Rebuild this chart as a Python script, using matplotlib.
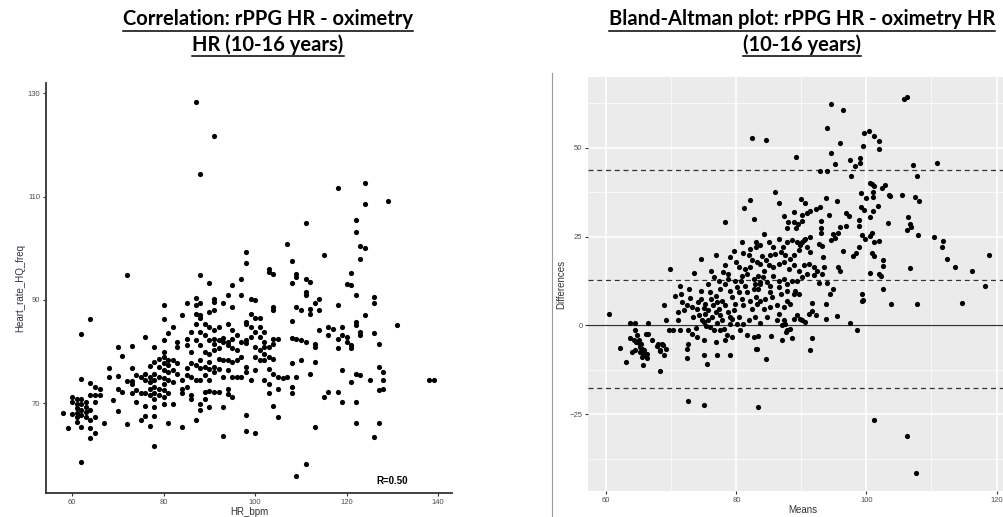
import numpy as np
import matplotlib
matplotlib.use("Agg")
import matplotlib.pyplot as plt
from matplotlib.lines import Line2D

matplotlib.rcParams['font.family'] = ['Liberation Sans', 'DejaVu Sans']

# left panel: (HR_bpm, Heart_rate_HQ_freq)
corr_pts = [
    (58, 68.1), (59, 65.1),
    (60, 71.2), (60, 70.3), (60, 67.9),
    (61, 70.9), (61, 69.9), (61, 69.0), (61, 68.0), (61, 67.4), (61, 66.4),
    (62, 70.9), (62, 69.9), (62, 68.6), (62, 67.7), (62, 65.4), (62, 74.6), (62, 83.3), (62, 58.7),
    (63, 70.3), (63, 69.3), (63, 68.3), (63, 67.4),
    (64, 86.2), (64, 73.9), (64, 71.5), (64, 68.6), (64, 66.7), (64, 65.1), (64, 63.2),
    (65, 73.2), (65, 71.5), (65, 70.3), (65, 67.4), (65, 64.3),
    (66, 72.8), (66, 71.5), (67, 66.1), (68, 76.9), (68, 75.0), (69, 70.6),
    (70, 80.9), (70, 75.2), (70, 72.8), (70, 68.5),
    (71, 79.1), (71, 72.2),
    (72, 94.9), (72, 74.3), (72, 66.0),
    (73, 81.0), (73, 76.9), (73, 74.3), (73, 73.7), (73, 71.9),
    (74, 75.4), (74, 72.5), (74, 70.3),
    (75, 75.1), (75, 71.9), (75, 66.7),
    (76, 82.8), (76, 75.7), (76, 74.4), (76, 71.9), (76, 69.4), (76, 67.5),
    (77, 77.2), (77, 75.1), (77, 74.1), (77, 72.8), (77, 71.5), (77, 65.6),
    (78, 80.9), (78, 78.0), (78, 75.7), (78, 74.4), (78, 73.2), (78, 71.9), (78, 70.9), (78, 69.2), (78, 67.6), (78, 61.7),
    (79, 78.6), (79, 77.0), (79, 75.1), (79, 72.8), (79, 71.5),
    (80, 89.1), (80, 86.2), (80, 82.2), (80, 79.9), (80, 79.0), (80, 77.7), (80, 76.4), (80, 74.8), (80, 73.8), (80, 72.5), (80, 71.2), (80, 69.9),
    (81, 83.6), (81, 78.3), (81, 77.4), (81, 76.1), (81, 74.4), (81, 71.9), (81, 66.2),
    (82, 84.8), (82, 78.3), (82, 76.4), (82, 74.1), (82, 69.9),
    (83, 81.9), (83, 80.9), (83, 77.7), (83, 75.7),
    (84, 87.0), (84, 74.4), (84, 72.8), (84, 71.9), (84, 65.4),
    (85, 89.3), (85, 82.5), (85, 81.2), (85, 76.9), (85, 75.4), (85, 73.2),
    (86, 83.8), (86, 79.9), (86, 77.7), (86, 75.1), (86, 71.5), (86, 70.9),
    (87, 128.4), (87, 90.4), (87, 89.0), (87, 87.3), (87, 85.4), (87, 82.3), (87, 77.4), (87, 74.4), (87, 66.8),
    (88, 114.4), (88, 94.9), (88, 89.3), (88, 87.0), (88, 86.4), (88, 83.8), (88, 81.2), (88, 78.3), (88, 76.9), (88, 74.4), (88, 69.9), (88, 68.6),
    (89, 85.4), (89, 83.2), (89, 79.9), (89, 77.0), (89, 75.4), (89, 72.2), (89, 70.9),
    (90, 93.3), (90, 87.7), (90, 84.8), (90, 82.2), (90, 79.6), (90, 78.0), (90, 76.7), (90, 74.4), (90, 72.4), (90, 69.2),
    (91, 121.8), (91, 90.2), (91, 89.6), (91, 88.0), (91, 84.1), (91, 82.5), (91, 81.5), (91, 80.3), (91, 77.0), (91, 76.1), (91, 72.2),
    (92, 84.8), (92, 82.2), (92, 80.6), (92, 78.6), (92, 76.7), (92, 72.2),
    (93, 89.3), (93, 82.7), (93, 81.9), (93, 78.3), (93, 75.1), (93, 69.3), (93, 63.6),
    (94, 90.9), (94, 85.4), (94, 81.9), (94, 81.2), (94, 78.3), (94, 76.4), (94, 72.8), (94, 71.7),
    (95, 92.8), (95, 88.6), (95, 84.1), (95, 82.5), (95, 80.6), (95, 78.0), (95, 75.1), (95, 71.2),
    (96, 83.2), (96, 80.3), (96, 78.3), (96, 75.1),
    (97, 94.1), (97, 90.9), (97, 81.9), (97, 79.0), (97, 75.1),
    (98, 99.3), (98, 97.2), (98, 85.7), (98, 85.4), (98, 82.3), (98, 81.7), (98, 77.0), (98, 76.1), (98, 67.7), (98, 64.6),
    (99, 90.2), (99, 87.3), (99, 84.8), (99, 82.8), (99, 74.4),
    (100, 89.9), (100, 86.4), (100, 83.8), (100, 80.9), (100, 79.0), (100, 76.4), (100, 64.3),
    (101, 86.4), (101, 84.8), (101, 82.8), (101, 80.3), (101, 78.3),
    (102, 83.8), (102, 81.9), (102, 80.9), (102, 79.6), (102, 78.3), (102, 74.4),
    (103, 96.0), (103, 95.4), (103, 80.9), (103, 79.0), (103, 76.7), (103, 73.8), (103, 71.9),
    (104, 95.1), (104, 88.6), (104, 88.0), (104, 82.5), (104, 81.5), (104, 78.6), (104, 75.7), (104, 69.4),
    (105, 82.5), (105, 75.1), (105, 72.8), (105, 67.4),
    (106, 74.8), (107, 100.8), (107, 75.1),
    (108, 97.6), (108, 93.3), (108, 85.9), (108, 82.7), (108, 77.7), (108, 73.2), (108, 71.9),
    (109, 95.1), (109, 94.4), (109, 88.6), (109, 82.5), (109, 75.1), (109, 55.9),
    (110, 88.1), (110, 82.2), (110, 78.3),
    (111, 104.9), (111, 94.0), (111, 91.5), (111, 90.9), (111, 81.8), (111, 58.3),
    (112, 93.5), (112, 88.3), (112, 87.3), (112, 75.7),
    (113, 89.3), (113, 81.5), (113, 80.9), (113, 77.9), (113, 65.4),
    (114, 90.2), (114, 88.0), (114, 84.1),
    (115, 98.6), (115, 71.2),
    (116, 84.8), (116, 83.2), (116, 72.2), (117, 84.4),
    (118, 111.6), (118, 89.0), (118, 82.5), (118, 80.6), (118, 72.2),
    (119, 84.8), (119, 83.2), (119, 76.4), (119, 70.3),
    (120, 93.0), (120, 82.8), (120, 81.9),
    (121, 95.3), (121, 92.8), (121, 81.2), (121, 80.6), (121, 74.1),
    (122, 105.4), (122, 103.1), (122, 90.9), (122, 85.7), (122, 85.1), (122, 75.7), (122, 70.3), (122, 66.1),
    (123, 100.5), (123, 98.0), (123, 83.8), (123, 83.2), (123, 75.4),
    (124, 112.6), (124, 108.6), (124, 100.0), (124, 87.0),
    (125, 74.4),
    (126, 90.6), (126, 89.3), (126, 83.6), (126, 63.4),
    (127, 81.5), (127, 77.0), (127, 72.5), (127, 66.1),
    (128, 76.1), (128, 74.4), (128, 72.8),
    (129, 109.1), (131, 85.1), (138, 74.4), (139, 74.4),
]

# right panel: (Means, Differences)
ba_pts = [
    # upper part
    (82.4, 52.7), (81.2, 33.1), (82.1, 35.4), (82.7, 30.0), (78.2, 29.0),
    (105.8, 63.7), (106.3, 64.4), (94.6, 62.3), (96.4, 60.6), (84.6, 52.2), (93.9, 55.5), (95.9, 51.3),
    (99.7, 54.1), (100.4, 54.8), (101.1, 53.2), (101.9, 51.8), (101.9, 49.6), (99.5, 50.4), (94.5, 48.4),
    (89.2, 47.3), (95.1, 45.4), (97.5, 46.5), (99.0, 47.0), (99.0, 45.7), (98.3, 44.9), (97.6, 42.1),
    (92.9, 43.5), (93.9, 43.5), (107.1, 45.2), (107.7, 42.0), (110.9, 45.7),
    (86.0, 37.5), (86.6, 34.4), (89.9, 35.6), (90.6, 34.4), (91.3, 32.3), (92.2, 32.8), (92.9, 33.4),
    (93.8, 35.8), (95.4, 34.9), (88.8, 31.8), (87.4, 30.8), (90.1, 31.0), (90.9, 31.5), (90.1, 29.4),
    (88.9, 29.2), (89.5, 28.6), (88.0, 29.1), (87.8, 27.5), (89.1, 27.4), (93.0, 29.5), (93.0, 27.4),
    (94.2, 31.1), (96.9, 31.6), (97.3, 30.9),
    (99.2, 37.2), (99.9, 35.9), (101.0, 37.5), (99.1, 33.2), (99.6, 32.5), (100.5, 30.6), (101.0, 32.3),
    (101.8, 33.7), (100.6, 40.1), (100.9, 39.8), (101.1, 39.1), (101.0, 36.2), (102.4, 38.8), (102.9, 39.6),
    (103.4, 36.7), (103.7, 36.3), (105.5, 36.7), (107.5, 36.2), (108.1, 35.1), (103.3, 28.8), (106.4, 30.6),
    (106.7, 28.4), (106.8, 27.8), (106.3, 26.9), (108.0, 25.3), (110.4, 24.8), (111.8, 23.7), (111.6, 22.2),
    (112.4, 18.7), (113.6, 16.4), (116.3, 15.2), (118.9, 19.8), (118.2, 11.1), (106.7, 16.2),
    (98.8, 28.1), (98.8, 29.7), (96.8, 28.1), (95.9, 27.8), (95.6, 25.9), (94.9, 25.6), (94.5, 24.1),
    (95.2, 24.6), (99.3, 25.3), (99.8, 24.2), (100.5, 25.1), (100.9, 26.1), (101.9, 23.7), (101.2, 23.4),
    (98.8, 22.0), (98.4, 20.4), (98.0, 19.4), (96.4, 20.8), (100.9, 20.4), (101.1, 19.6), (102.6, 18.4),
    (102.5, 16.7), (100.5, 14.7), (101.9, 14.5), (102.2, 13.8), (95.6, 16.4), (96.0, 15.4), (102.6, 10.3),
    (94.9, 10.3), (93.0, 25.9), (93.2, 22.4), (92.7, 22.8), (93.3, 19.2),
    # dense middle
    (83.7, 22.5), (84.2, 25.7), (85.1, 23.4), (85.7, 22.0), (86.5, 24.3), (87.2, 22.0), (87.8, 23.4),
    (88.6, 23.9), (89.3, 23.4), (89.8, 22.5), (90.1, 23.4), (90.4, 23.9), (90.8, 22.0), (91.3, 20.6),
    (91.4, 24.8), (90.6, 24.3), (89.6, 21.1), (88.8, 19.9), (88.2, 18.7), (87.5, 19.7), (86.8, 20.6),
    (86.0, 20.1), (85.2, 19.7), (84.5, 18.3), (83.7, 17.3), (84.2, 15.4), (85.0, 16.9), (85.7, 16.4),
    (86.5, 17.3), (87.3, 17.8), (88.1, 15.9), (88.8, 16.9), (89.6, 15.4), (90.4, 16.9), (91.1, 17.3),
    (91.9, 16.4), (92.4, 15.4), (93.2, 14.5), (93.5, 16.4), (84.1, 13.6), (84.7, 12.2), (85.7, 14.0),
    (86.5, 12.6), (87.3, 13.1), (87.8, 11.7), (88.6, 12.5), (89.3, 12.6), (90.1, 13.6), (90.8, 14.5),
    (91.9, 14.3), (92.7, 11.9), (94.0, 11.9), (86.5, 10.8), (85.2, 11.2), (83.7, 11.7),
    (103.8, 6.1), (107.8, 5.9), (114.7, 6.3), (99.3, 8.9), (99.5, 7.2), (99.3, 6.8), (97.5, 0.7),
    (98.6, -1.4), (94.4, 8.9), (93.8, 5.9), (93.8, 1.9), (95.5, 2.6), (91.6, 6.3), (91.6, 4.0),
    (91.1, 3.3), (92.3, 3.0), (91.6, -3.6), (91.4, -7.0), (89.6, 8.9), (88.8, 1.9), (89.8, 1.9),
    (90.5, 0.9), (89.3, 2.8), (90.1, 1.4), (87.3, 1.4), (87.5, 0.5), (87.0, 0.0), (87.8, -1.4),
    (88.3, -0.9), (88.6, -3.5), (87.7, -1.9), (87.0, -4.2), (85.4, -3.1), (83.3, -3.1), (84.5, -9.4),
    (83.1, -6.6), (86.2, 1.4), (84.7, 2.3), (83.6, 0.7), (88.3, 6.1), (87.3, 5.2), (86.2, 5.6),
    (85.2, 5.2), (84.3, 4.7), (85.5, 8.0), (86.8, 8.9), (87.8, 7.0), (88.8, 8.9), (84.4, 7.5),
    (89.0, 9.6), (87.8, 9.6), (85.2, 9.4), (83.7, 7.0), (86.6, 3.3),
    # left cluster
    (60.4, 3.1), (63.6, 0.7), (64.5, 0.7), (66.5, 0.7), (63.6, -3.5), (62.1, -6.4), (64.2, -4.2),
    (64.7, -2.8), (65.0, -5.0), (65.2, -6.1), (64.5, -7.0), (65.7, -7.5), (66.0, -8.4), (65.5, -8.9),
    (67.8, -5.9), (68.6, -5.3), (69.2, -6.6), (68.9, -8.4), (68.3, -7.0), (67.0, -4.2), (66.5, -2.3),
    (65.1, -4.0), (64.6, -4.7), (65.3, -5.1), (65.5, -6.6), (65.2, -7.5), (65.8, -7.0), (65.6, -8.4),
    (66.2, -8.0), (66.1, -2.3), (64.5, -1.4), (64.0, -7.5), (66.3, -9.1), (68.2, -7.3), (68.7, -5.6),
    (67.9, -5.3),
    # streaks 68-84
    (68.9, 5.8), (69.2, 1.4), (69.8, 15.9), (71.0, 3.7), (70.6, 8.4), (71.3, 11.2), (71.5, 8.7),
    (71.6, 6.6), (72.0, 4.2), (72.4, 5.6), (72.7, 10.3), (72.9, 7.8), (73.2, 5.1), (73.4, 2.3),
    (73.8, -0.7), (74.5, 18.7), (73.5, 14.7), (74.1, 6.6), (74.5, 9.8), (74.6, 7.5), (75.0, 5.0),
    (75.2, 3.3), (75.7, 11.7), (75.9, 9.4), (76.1, 7.5), (75.6, 1.6), (76.4, 5.6), (76.8, 3.7),
    (76.9, 8.4), (77.0, 6.6), (77.3, 4.7), (77.5, 2.8), (77.8, 1.4), (78.1, -0.9), (76.6, -1.4),
    (77.5, -1.4), (78.5, -2.8), (79.0, 0.5), (79.3, 1.9), (79.6, 4.2), (79.8, 6.1), (79.3, 8.0),
    (79.0, 9.8), (78.3, 11.7), (77.9, 15.0), (78.3, 17.1), (78.7, 14.5), (76.9, 19.9), (79.1, 19.2),
    (79.6, 20.9), (80.0, 17.8), (80.4, 16.4), (80.9, 23.4), (81.1, 20.3), (80.7, 12.6), (81.4, 11.2),
    (81.6, 9.4), (82.1, 7.0), (82.4, 4.7), (82.7, 10.3), (82.7, 13.1), (83.1, 8.1), (83.2, 6.1),
    (83.4, 14.0), (81.6, -2.8), (82.7, -3.3), (83.2, -6.6), (81.1, 0.5), (80.4, 2.3), (81.9, 1.4),
    (82.9, 2.3), (75.0, 0.9), (73.9, -3.3), (75.0, -4.2), (76.9, -4.7), (78.3, -4.2), (79.3, -3.3),
    (72.4, -6.6), (71.1, 1.4), (70.3, -1.4), (69.7, -1.4), (71.4, -1.4), (72.5, -1.4), (73.2, -2.3),
    (79.1, -8.4), (77.0, -8.4), (75.0, -8.4), (73.9, 4.7), (74.2, 2.8), (74.7, 1.4), (75.4, -0.3),
    (76.0, -0.5), (75.2, 6.1), (75.7, 4.4), (76.3, 2.3), (77.0, 0.7), (77.8, 7.0), (78.3, 5.6),
    (78.7, 3.7), (79.1, 2.3), (80.1, 0.5), (80.6, -1.4), (80.4, 9.4), (80.9, 7.5), (81.1, 5.6),
    (72.4, -9.2), (72.6, -5.2), (81.9, 19.7), (83.1, 23.4), (83.0, 22.2), (83.9, 19.4),
    (81.6, 14.5), (82.1, 16.4), (82.4, 18.4), (81.4, 15.9), (80.9, 14.0), (79.8, 12.6), (80.1, 10.8),
    (78.7, 13.1), (77.3, 12.6), (76.6, 13.6), (77.5, 10.3), (76.1, 15.4), (82.9, 11.7), (83.4, 10.3),
    (83.7, 12.2), (82.1, 21.5), (83.2, 17.8),
    # lower outliers
    (63.0, -10.3), (65.6, -11.2), (68.3, -12.8), (75.5, -11.0), (72.6, -21.3), (75.1, -22.5),
    (83.3, -23.1), (101.1, -26.6), (106.3, -31.0), (107.6, -41.5),
]

loa_upper = 43.6
mean_diff = 12.9
loa_lower = -17.6

title_left = ["Correlation: rPPG HR - oximetry", "HR (10-16 years)"]
title_right = ["Bland-Altman plot: rPPG HR - oximetry HR", "(10-16 years)"]

W, H = 1004, 517
fig = plt.figure(figsize=(W / 100, H / 100), dpi=100)
tick_grey = '#4d4d4d'


def draw_corr():
    ax = fig.add_axes([46 / W, 1 - 493 / H, 406 / W, 410 / H])
    x, y = np.array(corr_pts).T
    ax.scatter(x, y, s=14, color='black', linewidths=0, zorder=3)
    ax.set_xlim(54.3, 143)
    ax.set_ylim(52.6, 132)
    ax.set_xticks([60, 80, 100, 120, 140])
    ax.set_yticks([70, 90, 110, 130])
    for s in ['top', 'right']:
        ax.spines[s].set_visible(False)
    for s in ['left', 'bottom']:
        ax.spines[s].set_color('#333333')
        ax.spines[s].set_linewidth(1.3)
    ax.tick_params(labelsize=5.5, colors='#333333', labelcolor=tick_grey, length=2.5, width=0.8, pad=1.5)
    ax.set_xlabel('HR_bpm', fontsize=7, color='#333333', labelpad=1)
    ax.set_ylabel('Heart_rate_HQ_freq', fontsize=7, color='#333344', labelpad=2)
    ax.text(0.852, 0.03, 'R=0.50', transform=ax.transAxes, fontsize=7,
            fontweight='bold', ha='center', va='center')


def draw_ba():
    ax = fig.add_axes([588 / W, 1 - 491 / H, 430 / W, 414 / H])
    ax.set_facecolor('#ebebeb')
    x, y = np.array(ba_pts).T
    ax.set_xlim(57.2, 123.3)
    ax.set_ylim(-46.6, 69.9)
    ax.set_xticks([60, 80, 100, 120])
    ax.set_yticks([-25, 0, 25, 50])
    ax.set_xticks([70, 90, 110], minor=True)
    ax.set_yticks([-37.5, -12.5, 12.5, 37.5, 62.5], minor=True)
    ax.grid(which='major', color='white', linewidth=1.1)
    ax.grid(which='minor', color='white', linewidth=0.5)
    ax.set_axisbelow(True)
    for s in ax.spines.values():
        s.set_visible(False)
    ax.tick_params(which='major', labelsize=5.5, colors='#333333', labelcolor=tick_grey, length=2.5, width=0.8, pad=1.5)
    ax.tick_params(which='minor', length=0)
    ax.axhline(0, color='#333333', linewidth=0.9, zorder=2)
    for v in [loa_upper, mean_diff, loa_lower]:
        ax.axhline(v, color='#333333', linewidth=0.9, linestyle=(0, (4, 3)), zorder=2)
    ax.scatter(x, y, s=14, color='black', linewidths=0, zorder=3)
    ax.set_xlabel('Means', fontsize=7, color='#333333', labelpad=1)
    ax.set_ylabel('Differences', fontsize=7, color='#333333', labelpad=2)


def draw_titles():
    r = fig.canvas.get_renderer()
    specs = [(268, title_left), (802, title_right)]
    for cx, lines in specs:
        for i, line in enumerate(lines):
            base = 25 + 26 * i
            t = fig.text(cx / W, 1 - base / H, line, ha='center', va='baseline',
                         fontsize=14.5, fontweight='bold', family=['Lato', 'DejaVu Sans'])
            bb = t.get_window_extent(r)
            uy = 1 - (base + 5.5) / H
            fig.add_artist(Line2D([bb.x0 / W, bb.x1 / W], [uy, uy], color='black',
                                  linewidth=1.1, transform=fig.transFigure))


draw_corr()
draw_ba()
fig.add_artist(Line2D([552 / W, 552 / W], [0, 1 - 73 / H], color='#9a9a9a',
                      linewidth=0.8, transform=fig.transFigure))
draw_titles()
fig.savefig('out.png', dpi=100)
